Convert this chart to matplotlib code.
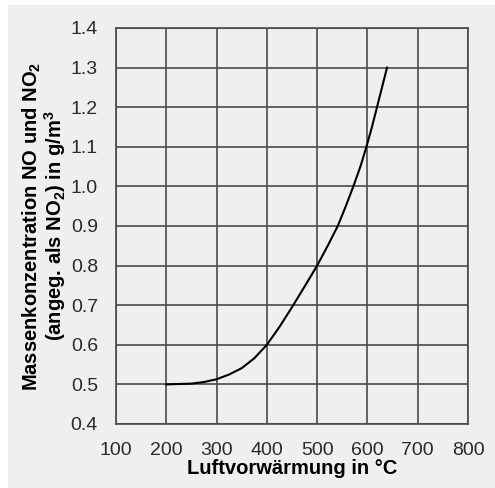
import numpy as np
import matplotlib
matplotlib.use('Agg')
import matplotlib.pyplot as plt
from matplotlib.patches import Rectangle

# Werte
temperatur = [200, 225, 250, 275, 300, 325, 350, 375, 400, 425, 450, 475,
              500, 521, 541, 557, 572, 586, 598, 609, 619, 629, 639]
konzentration = [0.500, 0.501, 0.502, 0.506, 0.513, 0.525, 0.541, 0.566, 0.600,
                 0.645, 0.695, 0.747, 0.800, 0.850, 0.900, 0.950, 1.000, 1.050,
                 1.100, 1.150, 1.200, 1.250, 1.300]

x_ticks = [100, 200, 300, 400, 500, 600, 700, 800]
y_ticks = [0.4, 0.5, 0.6, 0.7, 0.8, 0.9, 1.0, 1.1, 1.2, 1.3, 1.4]

plt.rcParams['font.family'] = ['Liberation Sans', 'DejaVu Sans']
plt.rcParams['mathtext.fontset'] = 'custom'
plt.rcParams['mathtext.rm'] = 'Liberation Sans:bold'
plt.rcParams['mathtext.default'] = 'rm'

bg = '#efefef'
grid_color = '#4a4a4a'
text_color = '#2a2a2a'

fig = plt.figure(figsize=(4.95, 4.88), dpi=100)
fig.patch.set_facecolor('white')
fig.add_artist(Rectangle((8 / 495, 0), 1, 1 - 5 / 488, transform=fig.transFigure,
                         facecolor=bg, edgecolor='none', zorder=-10))

ax = fig.add_axes([116 / 495, 1 - 424 / 488, (468 - 116) / 495, (424 - 28) / 488])
ax.set_facecolor(bg)

ax.plot(temperatur, konzentration, color='black', linewidth=1.5, zorder=3)

ax.set_xlim(100, 800)
ax.set_ylim(0.4, 1.4)
ax.set_xticks(x_ticks)
ax.set_yticks(y_ticks)
ax.set_xticklabels([str(t) for t in x_ticks])
ax.set_yticklabels([f'{t:.1f}' for t in y_ticks])
ax.grid(True, color=grid_color, linewidth=1.2)
ax.set_axisbelow(True)
for s in ax.spines.values():
    s.set_color(grid_color)
    s.set_linewidth(1.2)

ax.tick_params(axis='y', length=0, labelsize=14, colors=text_color, pad=13)
ax.tick_params(axis='x', length=0, labelsize=14, colors=text_color, pad=13)

ax.set_xlabel('Luftvorwärmung in °C', fontsize=14.5, fontweight='bold',
              color='black', labelpad=0)
ax.set_ylabel('Massenkonzentration NO und NO$_2$\n(angeg. als NO$_2$) in g/m$^3$',
              fontsize=14.5, fontweight='bold', color='black', labelpad=2,
              linespacing=0.95)

fig.savefig('out.png', dpi=100, facecolor=fig.get_facecolor())
